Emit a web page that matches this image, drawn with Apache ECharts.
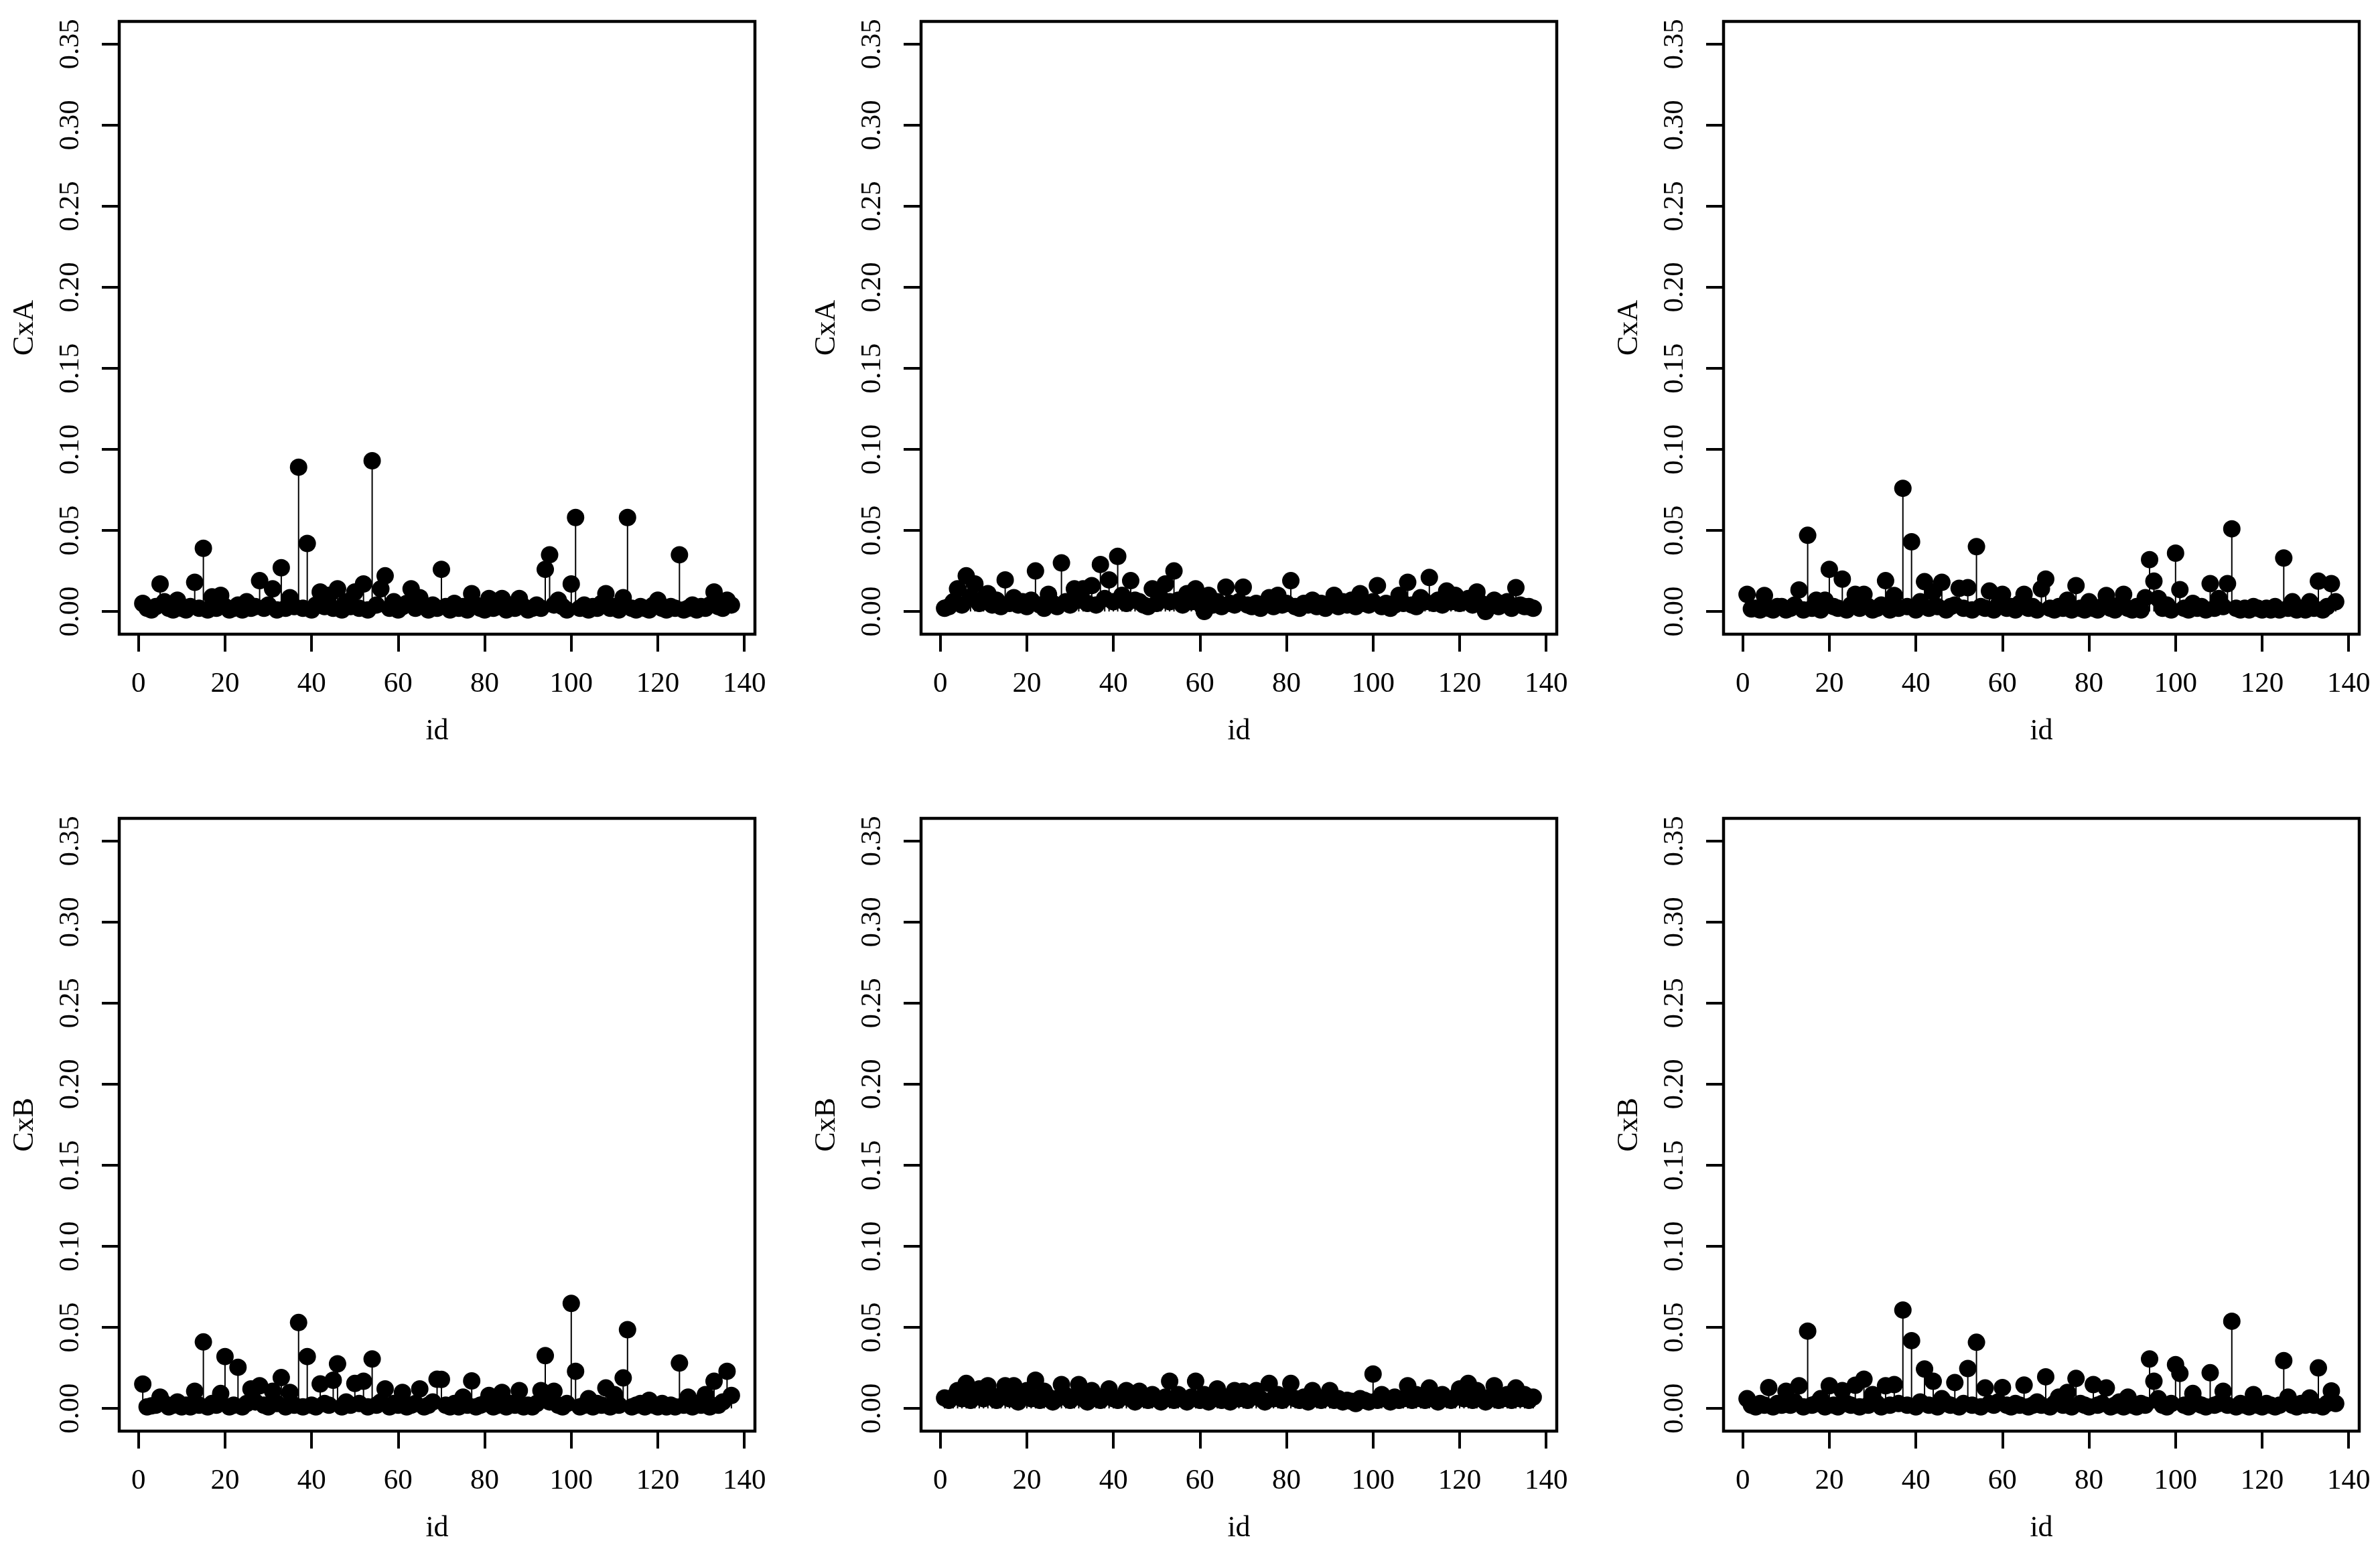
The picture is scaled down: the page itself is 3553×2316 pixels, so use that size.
<!DOCTYPE html>
<html>
<head>
    <meta charset="utf-8">
    <title>CxA / CxB by id</title>
    <script src="https://cdn.jsdelivr.net/npm/echarts@6.0.0/dist/echarts.min.js"></script>
    <style>
        html, body { margin: 0; padding: 0; background: #fff; }
        #chart { width: 3553px; height: 2316px; }
    </style>
</head>
<body>
<div id="chart"></div>
<script>
    // tick labels
    var xTicks = [0, 20, 40, 60, 80, 100, 120, 140];
    var yTicks = [0, 0.05, 0.10, 0.15, 0.20, 0.25, 0.30, 0.35];
    var yNames = ['CxA', 'CxB'];
    var xName = 'id';

    // values read per id (1..137), one array per panel
    var cxA_1 = [
        0.005, 0.002, 0.001, 0.003, 0.017, 0.006, 0.002, 0.001, 0.007, 0.002,
        0.001, 0.003, 0.018, 0.002, 0.039, 0.001, 0.009, 0.002, 0.010, 0.003,
        0.001, 0.002, 0.004, 0.001, 0.006, 0.002, 0.003, 0.019, 0.002, 0.004,
        0.014, 0.001, 0.027, 0.002, 0.0085, 0.003, 0.089, 0.002, 0.042, 0.001,
        0.004, 0.012, 0.003, 0.010, 0.002, 0.014, 0.001, 0.006, 0.003, 0.012,
        0.002, 0.017, 0.001, 0.093, 0.004, 0.014, 0.022, 0.002, 0.006, 0.001,
        0.003, 0.005, 0.014, 0.002, 0.0085, 0.003, 0.001, 0.004, 0.002, 0.026,
        0.003, 0.001, 0.005, 0.002, 0.003, 0.001, 0.011, 0.004, 0.002, 0.001,
        0.008, 0.002, 0.003, 0.008, 0.001, 0.004, 0.002, 0.008, 0.003, 0.001,
        0.002, 0.004, 0.002, 0.026, 0.035, 0.004, 0.007, 0.003, 0.001, 0.017,
        0.058, 0.002, 0.004, 0.001, 0.003, 0.002, 0.005, 0.011, 0.002, 0.003,
        0.001, 0.0085, 0.058, 0.002, 0.001, 0.003, 0.002, 0.001, 0.004, 0.007,
        0.002, 0.001, 0.003, 0.002, 0.035, 0.001, 0.002, 0.004, 0.001, 0.003,
        0.002, 0.004, 0.012, 0.003, 0.002, 0.007, 0.004
    ];
    var cxA_2 = [
        0.002, 0.003, 0.006, 0.014, 0.004, 0.022, 0.009, 0.017, 0.005, 0.008,
        0.011, 0.004, 0.007, 0.003, 0.0195, 0.005, 0.0085, 0.004, 0.006, 0.003,
        0.007, 0.025, 0.004, 0.002, 0.0106, 0.005, 0.003, 0.030, 0.006, 0.004,
        0.014, 0.007, 0.014, 0.005, 0.016, 0.004, 0.029, 0.008, 0.0195, 0.006,
        0.034, 0.010, 0.005, 0.019, 0.007, 0.006, 0.004, 0.003, 0.014, 0.005,
        0.008, 0.017, 0.006, 0.025, 0.007, 0.004, 0.011, 0.006, 0.014, 0.005,
        0.000, 0.010, 0.004, 0.006, 0.003, 0.015, 0.005, 0.004, 0.006, 0.015,
        0.004, 0.003, 0.005, 0.002, 0.004, 0.0085, 0.003, 0.010, 0.004, 0.005,
        0.019, 0.003, 0.002, 0.005, 0.004, 0.007, 0.003, 0.005, 0.002, 0.004,
        0.010, 0.003, 0.006, 0.004, 0.007, 0.003, 0.011, 0.005, 0.004, 0.006,
        0.016, 0.003, 0.005, 0.002, 0.004, 0.010, 0.005, 0.018, 0.004, 0.003,
        0.0085, 0.006, 0.021, 0.005, 0.007, 0.004, 0.0126, 0.006, 0.010, 0.005,
        0.006, 0.008, 0.004, 0.012, 0.005, 0.000, 0.004, 0.007, 0.003, 0.005,
        0.006, 0.002, 0.0147, 0.004, 0.003, 0.003, 0.002
    ];
    var cxA_3 = [
        0.0106, 0.0016, 0.002, 0.001, 0.0099, 0.002, 0.001, 0.003, 0.003, 0.001,
        0.002, 0.004, 0.0133, 0.001, 0.047, 0.002, 0.007, 0.001, 0.007, 0.026,
        0.003, 0.002, 0.020, 0.001, 0.004, 0.0106, 0.002, 0.0106, 0.003, 0.001,
        0.002, 0.004, 0.019, 0.001, 0.0099, 0.002, 0.076, 0.003, 0.043, 0.001,
        0.006, 0.0184, 0.002, 0.012, 0.003, 0.018, 0.001, 0.003, 0.004, 0.0143,
        0.002, 0.0147, 0.001, 0.040, 0.003, 0.002, 0.0126, 0.001, 0.004, 0.0106,
        0.002, 0.003, 0.001, 0.005, 0.0106, 0.002, 0.003, 0.001, 0.014, 0.020,
        0.002, 0.001, 0.003, 0.002, 0.007, 0.001, 0.016, 0.002, 0.001, 0.006,
        0.002, 0.001, 0.003, 0.0099, 0.002, 0.001, 0.004, 0.0106, 0.002, 0.001,
        0.003, 0.001, 0.0085, 0.032, 0.0187, 0.008, 0.002, 0.004, 0.001, 0.036,
        0.0135, 0.002, 0.001, 0.005, 0.002, 0.003, 0.001, 0.0172, 0.002, 0.008,
        0.003, 0.0172, 0.051, 0.002, 0.001, 0.002, 0.001, 0.003, 0.002, 0.001,
        0.002, 0.001, 0.003, 0.001, 0.033, 0.002, 0.006, 0.001, 0.002, 0.001,
        0.006, 0.002, 0.0187, 0.001, 0.003, 0.0172, 0.006
    ];
    var cxB_1 = [
        0.015, 0.001, 0.0016, 0.002, 0.007, 0.003, 0.001, 0.002, 0.004, 0.001,
        0.002, 0.001, 0.0106, 0.002, 0.041, 0.001, 0.003, 0.002, 0.0092, 0.032,
        0.001, 0.002, 0.0254, 0.001, 0.003, 0.012, 0.004, 0.014, 0.002, 0.001,
        0.0106, 0.003, 0.019, 0.001, 0.0099, 0.002, 0.053, 0.001, 0.032, 0.002,
        0.001, 0.0151, 0.003, 0.002, 0.0174, 0.0275, 0.001, 0.004, 0.002, 0.0154,
        0.003, 0.0168, 0.001, 0.0305, 0.002, 0.004, 0.012, 0.001, 0.003, 0.002,
        0.0099, 0.001, 0.002, 0.003, 0.012, 0.001, 0.002, 0.004, 0.018, 0.0179,
        0.002, 0.001, 0.003, 0.001, 0.007, 0.002, 0.017, 0.001, 0.002, 0.003,
        0.008, 0.001, 0.002, 0.0099, 0.001, 0.003, 0.002, 0.011, 0.001, 0.002,
        0.001, 0.003, 0.011, 0.0326, 0.004, 0.0106, 0.002, 0.001, 0.003, 0.0648,
        0.0229, 0.001, 0.002, 0.006, 0.001, 0.003, 0.002, 0.0126, 0.001, 0.0085,
        0.002, 0.0188, 0.0486, 0.001, 0.002, 0.003, 0.001, 0.005, 0.002, 0.001,
        0.003, 0.001, 0.002, 0.001, 0.028, 0.002, 0.007, 0.001, 0.003, 0.002,
        0.0085, 0.001, 0.0168, 0.002, 0.004, 0.0229, 0.008
    ];
    var cxB_2 = [
        0.0065, 0.005, 0.007, 0.011, 0.006, 0.0154, 0.005, 0.008, 0.012, 0.006,
        0.014, 0.007, 0.005, 0.008, 0.014, 0.006, 0.014, 0.004, 0.007, 0.011,
        0.006, 0.0174, 0.005, 0.0106, 0.007, 0.004, 0.006, 0.0147, 0.008, 0.005,
        0.007, 0.0147, 0.006, 0.004, 0.011, 0.007, 0.005, 0.008, 0.012, 0.006,
        0.005, 0.007, 0.011, 0.006, 0.004, 0.0106, 0.007, 0.005, 0.0085, 0.006,
        0.004, 0.007, 0.0168, 0.005, 0.0085, 0.006, 0.004, 0.007, 0.0168, 0.005,
        0.0085, 0.004, 0.006, 0.012, 0.005, 0.007, 0.004, 0.011, 0.006, 0.0106,
        0.005, 0.007, 0.011, 0.006, 0.004, 0.0154, 0.006, 0.0085, 0.005, 0.007,
        0.0154, 0.006, 0.005, 0.007, 0.004, 0.011, 0.006, 0.005, 0.007, 0.011,
        0.005, 0.006, 0.004, 0.005, 0.0044, 0.003, 0.006, 0.005, 0.004, 0.0212,
        0.005, 0.0085, 0.006, 0.004, 0.007, 0.005, 0.006, 0.014, 0.005, 0.0085,
        0.006, 0.005, 0.0126, 0.007, 0.004, 0.0085, 0.006, 0.005, 0.007, 0.012,
        0.006, 0.0154, 0.005, 0.011, 0.006, 0.004, 0.007, 0.014, 0.005, 0.006,
        0.0085, 0.005, 0.0126, 0.006, 0.0085, 0.005, 0.007
    ];
    var cxB_3 = [
        0.006, 0.002, 0.001, 0.003, 0.002, 0.0129, 0.001, 0.003, 0.002, 0.0106,
        0.002, 0.004, 0.014, 0.001, 0.0477, 0.002, 0.003, 0.006, 0.001, 0.014,
        0.002, 0.001, 0.011, 0.003, 0.002, 0.0143, 0.001, 0.018, 0.002, 0.0085,
        0.003, 0.001, 0.014, 0.002, 0.0147, 0.003, 0.0607, 0.002, 0.0418, 0.001,
        0.004, 0.0243, 0.002, 0.0168, 0.001, 0.006, 0.003, 0.002, 0.016, 0.001,
        0.003, 0.0246, 0.002, 0.0408, 0.001, 0.0126, 0.003, 0.002, 0.004, 0.0129,
        0.002, 0.001, 0.003, 0.002, 0.0144, 0.001, 0.002, 0.004, 0.002, 0.0195,
        0.001, 0.003, 0.007, 0.002, 0.0099, 0.001, 0.0185, 0.003, 0.002, 0.001,
        0.0147, 0.002, 0.003, 0.0126, 0.001, 0.002, 0.004, 0.001, 0.007, 0.002,
        0.001, 0.003, 0.002, 0.0305, 0.0168, 0.006, 0.002, 0.001, 0.003, 0.027,
        0.0216, 0.002, 0.001, 0.0092, 0.003, 0.002, 0.001, 0.022, 0.002, 0.003,
        0.0106, 0.002, 0.0538, 0.001, 0.003, 0.002, 0.001, 0.0085, 0.002, 0.001,
        0.003, 0.002, 0.001, 0.002, 0.0295, 0.007, 0.002, 0.001, 0.003, 0.002,
        0.0065, 0.002, 0.025, 0.001, 0.003, 0.0108, 0.003
    ];

    var panels = [cxA_1, cxA_2, cxA_3, cxB_1, cxB_2, cxB_3];

    // layout of the 2x3 plot boxes (px)
    var colLeft = [178, 1375, 2573];
    var rowTop = [32, 1222];
    var boxW = 949;
    var boxH = 915;

    var font = 'Liberation Serif';

    // type="h": thin vertical line from 0 up to the value
    function renderStem(params, api) {
        var x = api.value(0), y = api.value(1);
        var p0 = api.coord([x, 0]);
        var p1 = api.coord([x, y]);
        return {
            type: 'line',
            shape: { x1: p0[0], y1: p0[1], x2: p1[0], y2: p1[1] },
            style: { stroke: '#000', lineWidth: 2 }
        };
    }

    var chart = echarts.init(document.getElementById('chart'));

    var grids = [], xAxes = [], yAxes = [], series = [];
    for (var p = 0; p < panels.length; p++) {
        var row = Math.floor(p / 3), col = p % 3;
        grids.push({
            left: colLeft[col], top: rowTop[row], width: boxW, height: boxH,
            show: true, borderColor: '#000', borderWidth: 4.5,
            backgroundColor: 'transparent'
        });
        xAxes.push({
            type: 'value', gridIndex: p, position: 'bottom',
            min: -4.44, max: 142.44,
            name: xName, nameLocation: 'middle', nameGap: 123,
            nameTextStyle: { fontFamily: font, fontSize: 44, color: '#000' },
            axisLine: { show: false, onZero: false },
            axisTick: { show: true, length: 26, customValues: xTicks,
                lineStyle: { color: '#000', width: 4 } },
            axisLabel: { customValues: xTicks, margin: 53, fontFamily: font,
                fontSize: 43, color: '#000' },
            splitLine: { show: false }
        });
        yAxes.push({
            type: 'value', gridIndex: p, position: 'left',
            min: -0.014, max: 0.364,
            name: yNames[row], nameLocation: 'middle', nameGap: 119,
            nameTextStyle: { fontFamily: font, fontSize: 44, color: '#000' },
            axisLine: { show: false, onZero: false },
            axisTick: { show: true, length: 26, customValues: yTicks,
                lineStyle: { color: '#000', width: 4 } },
            axisLabel: { customValues: yTicks, rotate: 90, margin: 51,
                fontFamily: font, fontSize: 43, color: '#000',
                formatter: function (v) { return v.toFixed(2); } },
            splitLine: { show: false }
        });

        var pts = [];
        for (var i = 0; i < panels[p].length; i++) {
            pts.push([i + 1, panels[p][i]]);
        }
        series.push({
            type: 'custom', xAxisIndex: p, yAxisIndex: p,
            data: pts, renderItem: renderStem,
            silent: true, animation: false, z: 2
        });
        // filled points
        series.push({
            type: 'scatter', xAxisIndex: p, yAxisIndex: p,
            data: pts, symbol: 'circle', symbolSize: 26,
            itemStyle: { color: '#000', opacity: 1 },
            silent: true, animation: false, z: 3
        });
    }

    chart.setOption({
        animation: false,
        backgroundColor: '#fff',
        grid: grids,
        xAxis: xAxes,
        yAxis: yAxes,
        series: series
    });
</script>
</body>
</html>
